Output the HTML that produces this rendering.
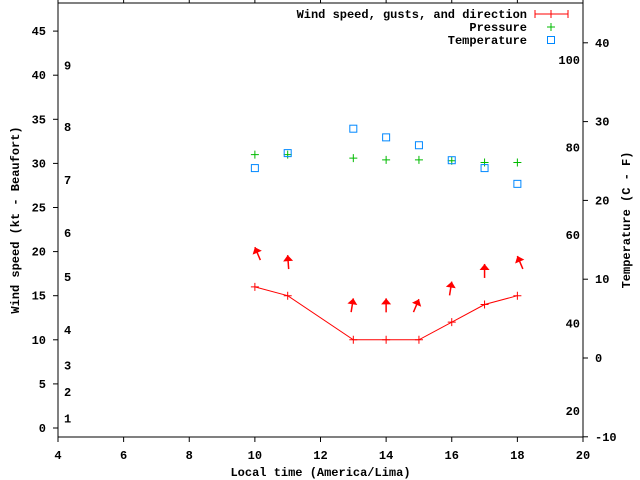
<!DOCTYPE html>
<html><head><meta charset="utf-8"><style>
body{margin:0;background:#fff}
svg{display:block;font-family:"Liberation Mono","DejaVu Sans Mono",monospace;font-size:12px;font-weight:bold}
</style></head><body>
<svg id="c" width="640" height="480" viewBox="0 0 640 480"></svg>
<script>
const hours=[10,11,13,14,15,16,17,18];
const windSpeed=[16,15,10,10,10,12,14,15];
const gusts=[20.5,19.6,14.7,14.7,14.6,16.6,18.6,19.5];
const windDir=[-23,-4,9,0,23,9,0,-23];
const pressure=[31.0,31.0,30.6,30.4,30.4,30.3,30.1,30.1];
const temperature=[24.1,26.0,29.1,28.0,27.0,25.1,24.1,22.1];
const xTicks=[4,6,8,10,12,14,16,18,20];
const yTicks=[0,5,10,15,20,25,30,35,40,45];
const tTicks=[-10,0,10,20,30,40];
const beaufortLabels=["1","2","3","4","5","6","7","8","9"];
const beaufortKt=[1.1,4.1,7.1,11.1,17.1,22.1,28.1,34.1,41.1];
const fLabels=["20","40","60","80","100"];
const fTemps=[-6.7,4.4,15.6,26.7,37.8];

const L=58,R=583,T=3,B=437;
const X=v=>L+(v-4)*(R-L)/16;
const Y=v=>428-v*8.82;
const TY=v=>358-v*7.88;
const s=document.getElementById('c');
const NS="http://www.w3.org/2000/svg";
function mk(tag,a,txt){const e=document.createElementNS(NS,tag);for(const k in a)e.setAttribute(k,a[k]);if(txt!==undefined)e.textContent=txt;s.appendChild(e);return e;}

let e=mk('rect',{x:L,y:T,width:R-L,height:B-T,fill:'none',stroke:'#000'});



xTicks.forEach(v=>{
 mk('line',{x1:X(v),x2:X(v),y1:B,y2:B+5,stroke:'#000'});
 mk('line',{x1:X(v),x2:X(v),y1:T,y2:T-5,stroke:'#000'});
 let t=mk('text',{x:X(v),y:B+22,'text-anchor':'middle'},v);
 
 
});
yTicks.forEach(v=>{
 mk('line',{x1:L-5,x2:L,y1:Y(v),y2:Y(v),stroke:'#000'});
 let t=mk('text',{x:L-12,y:Y(v)+4,'text-anchor':'end'},v);
 
 
});
tTicks.forEach(v=>{
 mk('line',{x1:R,x2:R+5,y1:TY(v),y2:TY(v),stroke:'#000'});
 let t=mk('text',{x:R+12,y:TY(v)+4},v);
 
 
});
beaufortLabels.forEach((l,i)=>{
 let t=mk('text',{x:64,y:Y(beaufortKt[i])+4},l);
 
 
});
fLabels.forEach((l,i)=>{
 let t=mk('text',{x:580,y:TY(fTemps[i])+4,'text-anchor':'end'},l);
 
 
});

e=mk('text',{x:(L+R)/2,y:476,'text-anchor':'middle'},'Local time (America/Lima)');


e=mk('text',{x:0,y:0,'text-anchor':'middle',transform:'translate(19,220) rotate(-90)'},'Wind speed (kt - Beaufort)');


e=mk('text',{x:0,y:0,'text-anchor':'middle',transform:'translate(630,220) rotate(-90)'},'Temperature (C - F)');



// wind line
e=mk('polyline',{points:hours.map((h,i)=>X(h)+','+Y(windSpeed[i])).join(' '),fill:'none',stroke:'#f00'});


hours.forEach((h,i)=>{
 const x=X(h),y=Y(windSpeed[i]);
 e=mk('path',{d:`M${x-4},${y}H${x+4}M${x},${y-4}V${y+4}`,stroke:'#f00'});
 
 
 const hx=x, hy=Y(gusts[i]), a=windDir[i]*Math.PI/180;
 const tx=hx-14*Math.sin(a), ty=hy+14*Math.cos(a);
 const g=mk('g',{transform:`rotate(${windDir[i]} ${hx} ${hy})`});
 
 
 const ln=document.createElementNS(NS,'line');
 [['x1',hx],['y1',hy+14],['x2',hx],['y2',hy],['stroke','#f00'],['stroke-width','1.5']].forEach(p=>ln.setAttribute(p[0],p[1]));
 g.appendChild(ln);
 const pg=document.createElementNS(NS,'polygon');
 pg.setAttribute('points',`${hx},${hy} ${hx-5},${hy+6} ${hx+5},${hy+6}`);
 pg.setAttribute('fill','#f00');
 g.appendChild(pg);
 s.appendChild(g);
});
hours.forEach((h,i)=>{
 const x=X(h),y=Y(pressure[i]);
 e=mk('path',{d:`M${x-4},${y}H${x+4}M${x},${y-4}V${y+4}`,stroke:'#0b0'});
 
 
});
hours.forEach((h,i)=>{
 const x=X(h),y=TY(temperature[i]);
 e=mk('rect',{x:x-3.5,y:y-3.5,width:7,height:7,fill:'none',stroke:'#08f'});
 
 
});

// legend
const lg=[['Wind speed, gusts, and direction',14],['Pressure',27],['Temperature',40]];
lg.forEach((l,i)=>{
 let t=mk('text',{x:527,y:l[1]+4,'text-anchor':'end'},l[0]);
 
 
});
mk('path',{d:'M535,14H568M535,10V18M568,10V18M551,10V18',stroke:'#f00'});
mk('path',{d:'M547,27H555M551,23V31',stroke:'#0b0'});
mk('rect',{x:547.5,y:36.5,width:7,height:7,fill:'none',stroke:'#08f'});
</script>
</body></html>
